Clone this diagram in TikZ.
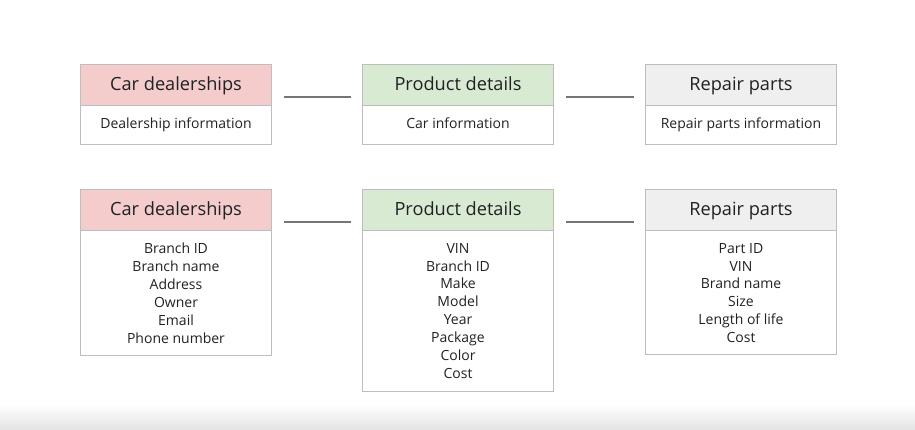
\documentclass[tikz,border=0pt]{standalone}
\usepackage{fontspec}
\setmainfont{Open Sans}
\usetikzlibrary{calc,positioning}
\definecolor{pinkh}{HTML}{F4CCCC}
\definecolor{greenh}{HTML}{D9EAD3}
\definecolor{grayh}{HTML}{EFEFEF}
\definecolor{boxline}{HTML}{BDBDBD}
\definecolor{conn}{HTML}{757575}
\definecolor{txt}{HTML}{202124}
\tikzset{
  hdr/.style={draw=boxline, line width=1pt, minimum width=191pt, minimum height=41pt, inner sep=0pt, anchor=north west, font=\fontsize{18.2}{20}\selectfont, text=txt, text height=2ex, text depth=0ex},
  bdy/.style={draw=boxline, line width=1pt, minimum width=191pt, inner sep=0pt, anchor=north west, align=center, font=\fontsize{14}{17.9}\selectfont, text=txt, text height=1.5ex, text depth=.25ex},
  lst/.style={anchor=north, inner sep=0pt, align=center, font=\fontsize{14}{17.9}\selectfont, text=txt},
  link/.style={draw=conn, line width=1.6pt}
}
\begin{document}
\begin{tikzpicture}[x=1pt,y=-1pt]
\useasboundingbox (0,0) rectangle (915,430);
\shade[top color=white, bottom color=black!11] (0,404) rectangle (915,430);
% top row
\node[hdr, fill=pinkh] (h1) at (80,64) {Car dealerships};
\node[bdy, minimum height=39pt] (b1) at (80,105) {Dealership information};
\node[hdr, fill=greenh] (h2) at (362,64) {Product details};
\node[bdy, minimum height=39pt] (b2) at (362,105) {Car information};
\node[hdr, fill=grayh] (h3) at (645,64) {Repair parts};
\node[bdy, minimum height=39pt] (b3) at (645,105) {Repair parts information};
\draw[link] ([xshift=12pt,yshift=9pt]h1.south east) -- ([xshift=-11pt,yshift=9pt]h2.south west);
\draw[link] ([xshift=12pt,yshift=9pt]h2.south east) -- ([xshift=-11pt,yshift=9pt]h3.south west);
% bottom row
\node[hdr, fill=pinkh] (H1) at (80,189) {Car dealerships};
\node[bdy, minimum height=125pt] (B1) at (80,230) {};
\node[lst] (T1) at ($(B1.north)+(0,13)$) {Branch ID\\Branch name\\Address\\Owner\\Email\\Phone number};
\node[hdr, fill=greenh] (H2) at (362,189) {Product details};
\node[bdy, minimum height=161pt] (B2) at (362,230) {};
\node[lst] (T2) at ($(B2.north)+(0,13)$) {VIN\\Branch ID\\Make\\Model\\Year\\Package\\Color\\Cost};
\node[hdr, fill=grayh] (H3) at (645,189) {Repair parts};
\node[bdy, minimum height=124pt] (B3) at (645,230) {};
\node[lst] (T3) at ($(B3.north)+(0,13)$) {Part ID\\VIN\\Brand name\\Size\\Length of life\\Cost};
\draw[link] ([xshift=12pt,yshift=9pt]H1.south east) -- ([xshift=-11pt,yshift=9pt]H2.south west);
\draw[link] ([xshift=12pt,yshift=9pt]H2.south east) -- ([xshift=-11pt,yshift=9pt]H3.south west);
\end{tikzpicture}
\end{document}
